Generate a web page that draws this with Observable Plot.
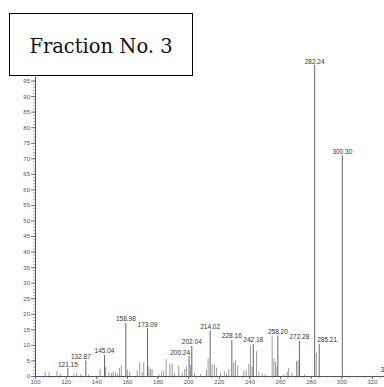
<!DOCTYPE html>
<html><head><meta charset="utf-8">
<script src="https://cdn.jsdelivr.net/npm/d3@7"></script>
<script src="https://cdn.jsdelivr.net/npm/@observablehq/plot@0.6"></script>
<style>
html,body{margin:0;padding:0;background:#fff;overflow:hidden}
#wrap{position:relative;width:384px;height:387px}
#title{position:absolute;left:9px;top:13px;width:184px;height:63px;box-sizing:border-box;border:1.5px solid #000;font-family:"DejaVu Serif",serif;font-size:19.5px;display:flex;align-items:center;justify-content:center;background:#fff;color:#111;padding-top:3px}
</style></head>
<body><div id="wrap"><div id="chart"></div><div id="title">Fraction No. 3</div></div>
<script>
const peakMz = [106.3,108.9,114.0,116.2,121.15,125.0,126.8,129.6,132.87,134.6,142.2,145.04,145.8,147.9,149.5,150.7,152.2,153.7,154.8,156.0,158.98,159.9,161.5,166.4,168.0,169.6,170.7,173.09,174.0,175.1,176.1,180.5,182.2,183.7,185.3,187.7,189.2,190.7,193.5,195.7,197.4,198.5,200.24,201.2,202.04,203.8,207.7,211.6,212.7,214.02,215.3,216.8,218.1,220.8,223.3,224.7,226.2,228.16,229.4,230.5,232.0,236.0,237.5,239.3,240.3,241.4,242.18,244.3,245.8,248.0,250.0,254.5,255.6,256.7,257.7,258.20,262.0,264.3,265.3,267.5,270.4,271.4,272.28,275.6,282.24,283.3,285.21,300.30,331.7];
const peakIntensity = [1.4,1.2,1.5,0.7,2.5,0.7,0.9,0.6,5.0,0.5,2.3,6.8,3.0,1.2,0.9,1.4,1.1,0.8,2.6,3.5,17.1,2.1,1.2,1.7,4.4,1.2,4.4,15.4,3.0,2.2,2.2,0.5,1.5,1.8,5.4,4.0,4.0,1.0,3.3,1.0,2.3,3.0,6.4,3.5,9.7,1.0,0.6,1.9,5.7,14.6,3.7,3.7,2.7,1.0,1.6,0.8,2.2,11.6,4.3,5.0,3.4,1.6,2.0,3.9,9.8,3.0,10.3,8.0,1.4,0.8,0.5,12.7,5.7,4.6,3.0,13.0,0.5,1.4,2.5,1.0,4.8,5.1,11.3,0.5,100,7.5,10.3,71,0.8];
const labelText = ["121.15","132.87","145.04","158.98","173.09","200.24","202.04","214.02","228.16","242.18","258.20","272.28","282.24","285.21","300.30","331.70"];
const xTicks = [100,120,140,160,180,200,220,240,260,280,300,320];
const yTicks = [0,5,10,15,20,25,30,35,40,45,50,55,60,65,70,75,80,85,90,95];

const peaks = peakMz.map((mz, i) => ({mz, v: peakIntensity[i], labeled: labelText.includes(mz.toFixed(2))}));
const labels = labelText.map(t => {
  const mz = +t;
  const p = peaks.find(d => Math.abs(d.mz - mz) < 0.001);
  return {mz, v: p ? p.v : 0, t};
});
const normal = labels.filter(d => !["200.24","285.21","132.87"].includes(d.t));
const font = "Liberation Sans, Arial, sans-serif";

const chart = Plot.plot({
  width: 384, height: 387,
  marginLeft: 35, marginRight: 12, marginTop: 65, marginBottom: 11,
  style: {fontFamily: font, background: "#fff", overflow: "hidden"},
  x: {domain: [100, 320], label: null},
  y: {domain: [0, 100], label: null},
  marks: [
    Plot.axisY({ticks: d3.range(0, 96, 1), tickSize: 2, text: null, label: null, stroke: "#777", strokeWidth: 0.6}),
    Plot.axisY({ticks: yTicks, tickSize: 4, tickPadding: 1.5, fontSize: 6, label: null, fill: "#555", stroke: "#555", strokeWidth: 0.8}),
    Plot.axisX({ticks: d3.range(100, 330, 5), tickSize: 2, text: null, label: null, stroke: "#777", strokeWidth: 0.6}),
    Plot.axisX({ticks: xTicks, tickSize: 3, tickPadding: 0.5, fontSize: 6, label: null, fill: "#555", stroke: "#555", strokeWidth: 0.8}),
    Plot.ruleX([100], {y1: 0, y2: 96.2, stroke: "#555", strokeWidth: 1}),
    Plot.ruleY([0], {x1: 100, x2: 330, stroke: "#555", strokeWidth: 1}),
    Plot.ruleX(peaks.filter(d => !d.labeled), {x: "mz", y1: 0, y2: "v", stroke: "#999", strokeWidth: 1}),
    Plot.ruleX(peaks.filter(d => d.labeled), {x: "mz", y1: 0, y2: "v", stroke: "#666", strokeWidth: 1}),
    Plot.text(normal, {x: "mz", y: "v", text: "t", dy: -2, lineAnchor: "bottom", fontSize: 6.5, fill: "#333"}),
    Plot.text(labels.filter(d => d.t === "132.87"), {x: "mz", y: "v", text: "t", dy: -2, dx: -5, lineAnchor: "bottom", fontSize: 6.5, fill: "#333"}),
    Plot.text(labels.filter(d => d.t === "200.24"), {x: "mz", y: "v", text: "t", dy: -2, dx: 1, textAnchor: "end", lineAnchor: "bottom", fontSize: 6.5, fill: "#333"}),
    Plot.text(labels.filter(d => d.t === "285.21"), {x: "mz", y: "v", text: "t", dy: -2, dx: -2, textAnchor: "start", lineAnchor: "bottom", fontSize: 6.5, fill: "#333"})
  ]
});
document.getElementById("chart").appendChild(chart);
</script>
</body></html>
